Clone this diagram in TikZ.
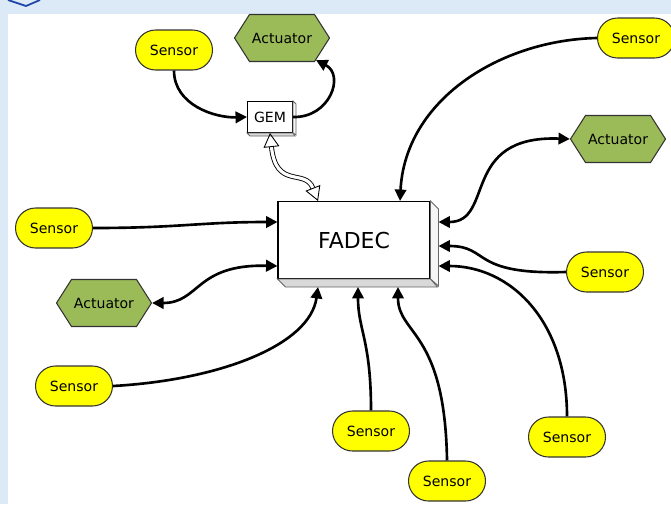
\documentclass[tikz,border=0pt]{standalone}
\usepackage{fontspec}
\setmainfont{DejaVu Sans}
\usetikzlibrary{arrows.meta,shapes.misc,shapes.symbols,calc}
\definecolor{sensfill}{RGB}{255,255,0}
\definecolor{actfill}{RGB}{155,187,89}
\definecolor{frameblue}{RGB}{220,233,246}
\definecolor{chevblue}{RGB}{30,70,170}
\tikzset{
  sensor/.style={rounded rectangle, draw=black!80, fill=sensfill, line width=0.6pt,
    minimum width=1.54cm, minimum height=0.8cm, inner sep=0pt, font=\fontsize{8}{10}\selectfont},
  actuator/.style={signal, signal to=east and west, signal pointer angle=115, draw=black!80,
    fill=actfill, line width=0.6pt, minimum width=1.9cm, minimum height=0.94cm, inner sep=0pt,
    font=\fontsize{8}{10}\selectfont},
  unit/.style={rectangle, draw, fill=white, line width=0.6pt, inner sep=0pt},
  bevel/.style={draw=black!60, line width=0.5pt},
  wire/.style={line width=1.5pt, -{Triangle[length=6.5pt,width=6.5pt]}},
  dwire/.style={line width=1.5pt, {Triangle[length=6.5pt,width=6.5pt]}-{Triangle[length=6.5pt,width=6.5pt]}},
  link/.style={line width=0.5pt, double distance=1.8pt,
    {Triangle[open,length=8pt,width=9pt]}-{Triangle[open,length=8pt,width=9pt]}}
}
\begin{document}
\begin{tikzpicture}[x=0.02cm,y=-0.02cm]
  \useasboundingbox (0,0) rectangle (671,504);
  \fill[frameblue] (0,0) rectangle (671,504);
  \fill[white] (8,14) rectangle (671,504);
  \draw[chevblue, line width=1pt] (8,0) -- (26,6) -- (40,0);

  \node[unit, minimum width=3.04cm, minimum height=1.54cm, font=\fontsize{12.5}{15}\selectfont] (fadec) at (354,240) {FADEC};
  \filldraw[bevel, fill=gray!8] (fadec.north east) -- ++(8,8) -- ++(0,77) -- (fadec.south east) -- cycle;
  \filldraw[bevel, fill=gray!30] (fadec.south west) -- ++(8,8) -- ++(152,0) -- (fadec.south east) -- cycle;
  \node[unit, minimum width=0.9cm, minimum height=0.62cm, font=\fontsize{8}{10}\selectfont] (gem) at (270,117) {GEM};
  \filldraw[bevel, fill=gray!8] (gem.north east) -- ++(3,3) -- ++(0,31) -- (gem.south east) -- cycle;
  \filldraw[bevel, fill=gray!30] (gem.south west) -- ++(3,3) -- ++(45,0) -- (gem.south east) -- cycle;

  \node[sensor] (sen1) at (174,50) {Sensor};
  \node[actuator] (act1) at (282,38) {Actuator};
  \node[sensor] (sen2) at (636,38) {Sensor};
  \node[actuator] (act2) at (618,139) {Actuator};
  \node[sensor] (sen3) at (605,272) {Sensor};
  \node[sensor] (sen4) at (567,437) {Sensor};
  \node[sensor] (sen5) at (447,481) {Sensor};
  \node[sensor] (sen6) at (371,431) {Sensor};
  \node[sensor] (sen7) at (74,386) {Sensor};
  \node[actuator] (act3) at (104,303) {Actuator};
  \node[sensor] (sen8) at (54,228) {Sensor};

  \draw[wire] (sen1.south) .. controls (174,105) and (215,118) .. (gem.west);
  \draw[wire] (gem.east) .. controls (330,118) and (345,75) .. (act1.-33);
  \draw[link] (gem.south) .. controls (276,190) and (305,168) .. ($(fadec.north)+(-36,0)$);
  \draw[wire] (sen2.west) .. controls (500,40) and (405,100) .. ($(fadec.north)+(46,0)$);
  \draw[dwire] (act2.west) .. controls (460,135) and (495,222) .. ($(fadec.east)+(8,-18)$);
  \draw[wire] (sen3.west) .. controls (470,275) and (490,246) .. ($(fadec.east)+(8,6)$);
  \draw[wire] (sen4.north) .. controls (567,320) and (510,266) .. ($(fadec.east)+(8,26)$);
  \draw[wire] (sen5.north) .. controls (445,330) and (398,335) .. ($(fadec.south)+(44,8)$);
  \draw[wire] (sen6.north) .. controls (371,340) and (358,330) .. ($(fadec.south)+(4,8)$);
  \draw[wire] (sen7.east) .. controls (220,380) and (310,345) .. ($(fadec.south)+(-36,8)$);
  \draw[wire] (sen8.east) .. controls (180,228) and (200,222) .. ($(fadec.west)+(0,-18)$);
  \draw[dwire] ($(fadec.west)+(0,26)$) .. controls (195,264) and (200,303) .. (act3.east);
\end{tikzpicture}
\end{document}
